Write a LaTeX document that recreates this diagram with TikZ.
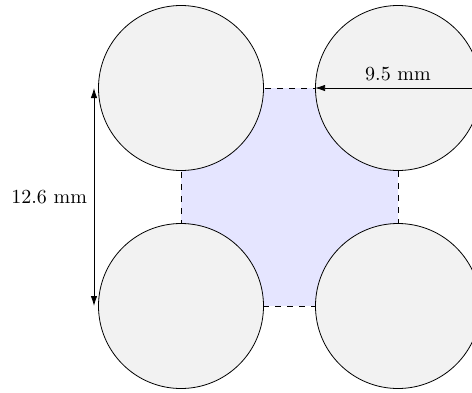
\documentclass[tikz,border=0pt]{standalone}
\usetikzlibrary{arrows.meta}
\begin{document}
\begin{tikzpicture}[x=0.5pt,y=-0.5pt,
  hole/.style={circle,draw=black,fill=gray!10,minimum size=165*0.5pt,inner sep=0pt},
  cell/.style={draw=black,dashed,fill=blue!10},
  dimline/.style={line width=0.4pt,>={Latex[length=5pt,width=3.2pt]}}]
\useasboundingbox (0,0) rectangle (472,392);
\draw[cell] (181,88) rectangle (398,306);
\node[hole] (tl) at (181,88) {};
\node[hole] (tr) at (398,88) {};
\node[hole] (bl) at (181,306) {};
\node[hole] (br) at (398,306) {};
\draw[dimline,<-] (tr.west) -- node[above] {9.5 mm} (tr.east);
\coordinate (d1) at (94,88);
\coordinate (d2) at (94,306);
\draw[dimline,<->] (d1) -- node[left] {12.6 mm} (d2);
\end{tikzpicture}
\end{document}
